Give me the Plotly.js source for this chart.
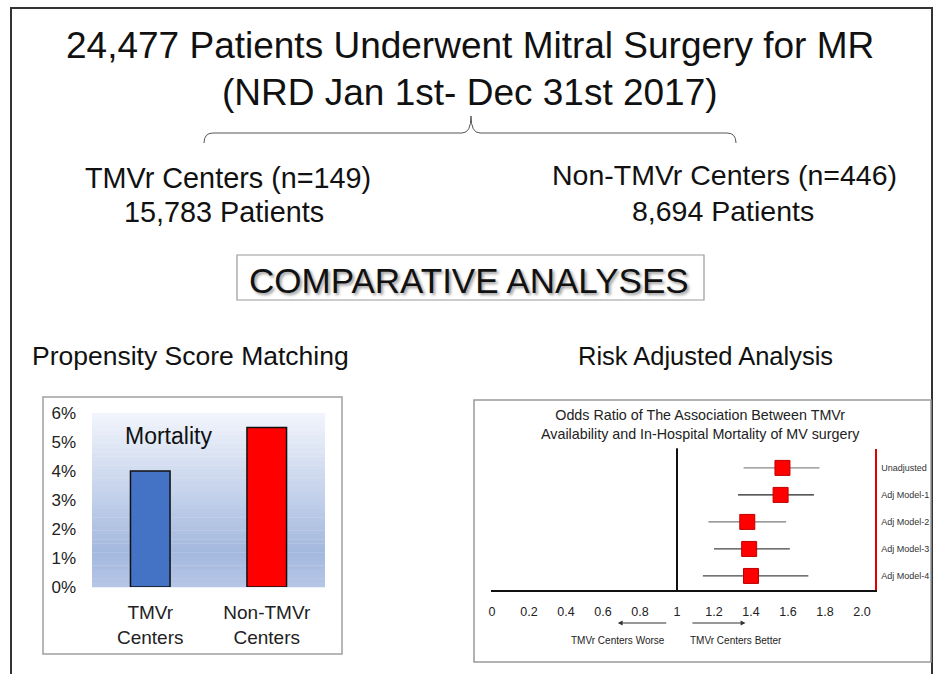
<!DOCTYPE html>
<html>
<head>
<meta charset="utf-8">
<script src="https://cdn.plot.ly/plotly-3.0.1.min.js"></script>
<style>html,body{margin:0;padding:0;background:#fff;}#chart{width:936px;height:674px;}</style>
</head>
<body>
<div id="chart"></div>
<script>
// ---- data ----
const barCategories = ['TMVr<br>Centers', 'Non-TMVr<br>Centers'];
const mortalityPct = [4.0, 5.5];
const barTickVals = [0, 1, 2, 3, 4, 5, 6];
const barTickText = ['0%', '1%', '2%', '3%', '4%', '5%', '6%'];

const models = ['Unadjusted', 'Adj Model-1', 'Adj Model-2', 'Adj Model-3', 'Adj Model-4'];
const oddsRatio = [1.57, 1.56, 1.38, 1.39, 1.40];
const ciLower = [1.36, 1.33, 1.17, 1.20, 1.14];
const ciUpper = [1.77, 1.74, 1.59, 1.61, 1.71];
const orTickVals = [0, 0.2, 0.4, 0.6, 0.8, 1, 1.2, 1.4, 1.6, 1.8, 2.0];
const orTickText = ['0', '0.2', '0.4', '0.6', '0.8', '1', '1.2', '1.4', '1.6', '1.8', '2.0'];

// ---- helpers (pixel -> paper) ----
const W = 936, H = 674;
const px = x => x / W;
const py = y => 1 - y / H;

const FONT = 'Liberation Sans, Arial, sans-serif';
const ciColors = ['#8a8a8a', '#222222', '#7a7a7a', '#444444', '#444444'];

const traces = [];
traces.push({
  type: 'bar', x: barCategories, y: mortalityPct, xaxis: 'x', yaxis: 'y',
  width: 0.34,
  marker: { color: ['#4472c4', '#ff0000'], line: { color: '#111', width: 1.5 } },
  hoverinfo: 'skip', showlegend: false
});
models.forEach((m, i) => {
  traces.push({
    type: 'scatter', mode: 'markers', x: [oddsRatio[i]], y: [m], xaxis: 'x2', yaxis: 'y2',
    marker: { symbol: 'square', size: 15, color: '#ff0000', line: { color: '#c00000', width: 1 } },
    error_x: { type: 'data', symmetric: false, array: [ciUpper[i] - oddsRatio[i]],
               arrayminus: [oddsRatio[i] - ciLower[i]], width: 0, thickness: 1.2, color: ciColors[i] },
    showlegend: false, hoverinfo: 'skip'
  });
});

// ---- decorative shapes ----
const shapes = [];
shapes.push({ type: 'path', xref: 'paper', yref: 'paper',
  path: `M ${px(11)},${py(674)} L ${px(11)},${py(8)} L ${px(932)},${py(8)} L ${px(932)},${py(674)}`,
  line: { color: '#333', width: 2 } });
const br = [[204,143],[204,133],[213,133],[462,133],[471,133],[471,116],[471,133],[480,133],[727,133],[736,133],[736,143]];
const P = p => `${px(p[0])},${py(p[1])}`;
shapes.push({ type: 'path', xref: 'paper', yref: 'paper',
  path: `M ${P(br[0])} Q ${P(br[1])} ${P(br[2])} L ${P(br[3])} Q ${P(br[4])} ${P(br[5])} Q ${P(br[6])} ${P(br[7])} L ${P(br[8])} Q ${P(br[9])} ${P(br[10])}`,
  line: { color: '#555', width: 1 } });
shapes.push({ type: 'rect', xref: 'paper', yref: 'paper', x0: px(237), x1: px(704), y0: py(300), y1: py(255),
  line: { color: '#999', width: 1.2 }, fillcolor: 'rgba(0,0,0,0)' });
shapes.push({ type: 'rect', xref: 'paper', yref: 'paper', x0: px(43), x1: px(342), y0: py(654), y1: py(397),
  line: { color: '#a0a0a0', width: 1.5 }, fillcolor: 'rgba(0,0,0,0)' });
shapes.push({ type: 'rect', xref: 'paper', yref: 'paper', x0: px(474), x1: px(931), y0: py(662), y1: py(400),
  line: { color: '#999', width: 1.5 }, fillcolor: 'rgba(0,0,0,0)' });
const NS = 40;
function grad(t) {
  const top = [242, 245, 252], mid = [163, 184, 222], bot = [182, 198, 230];
  let a, b, u;
  if (t < 0.8) { a = top; b = mid; u = t / 0.8; } else { a = mid; b = bot; u = (t - 0.8) / 0.2; }
  const c = a.map((v, k) => Math.round(v + (b[k] - v) * u));
  return `rgb(${c[0]},${c[1]},${c[2]})`;
}
for (let k = 0; k < NS; k++) {
  shapes.push({ type: 'rect', xref: 'x domain', yref: 'y domain', layer: 'below',
    x0: 0, x1: 1, y0: 1 - (k + 1) / NS - 0.002, y1: 1 - k / NS,
    fillcolor: grad((k + 0.5) / NS), line: { width: 0 } });
}
shapes.push({ type: 'line', xref: 'x2', yref: 'y2 domain', x0: 1, x1: 1, y0: 0, y1: 1.005,
  line: { color: '#111', width: 2 } });

// ---- annotations ----
const ann = [];
const txt = (t, x, y, size, extra) => ann.push(Object.assign({ text: t, xref: 'paper', yref: 'paper',
  x: px(x), y: py(y), xanchor: 'center', yanchor: 'middle', showarrow: false,
  font: { family: FONT, size: size, color: '#111' } }, extra || {}));
txt('24,477 Patients Underwent Mitral Surgery for MR', 470, 45, 37);
txt('(NRD Jan 1st- Dec 31st 2017)', 470, 92, 37);
txt('TMVr Centers (n=149)', 228, 178, 28.8);
txt('15,783 Patients', 224, 212, 28.8);
txt('Non-TMVr Centers (n=446)', 724, 175, 28.5);
txt('8,694 Patients', 723, 211, 28.5);
txt('COMPARATIVE ANALYSES', 469, 280, 35,
  { font: { family: FONT, size: 35, color: '#111', shadow: '2px 2px 3px rgba(0,0,0,0.4)' } });
txt('Propensity Score Matching', 190, 356, 26.5);
txt('Risk Adjusted Analysis', 705, 356, 25.5);
txt('Mortality', 168, 436, 23);
txt('Odds Ratio of The Association Between TMVr<br>Availability and In-Hospital Mortality of MV surgery', 700, 424, 14.3,
  { font: { family: FONT, size: 14.3, color: '#222' } });
txt('TMVr Centers Worse', 618, 640, 10, { font: { family: FONT, size: 10, color: '#222' } });
txt('TMVr Centers Better', 736, 640, 10, { font: { family: FONT, size: 10, color: '#222' } });
ann.push({ xref: 'x2', yref: 'paper', axref: 'x2', ayref: 'paper', x: 0.68, y: py(623), ax: 0.95, ay: py(623),
  text: '', showarrow: true, arrowhead: 2, arrowsize: 0.8, arrowwidth: 1.2, arrowcolor: '#333' });
ann.push({ xref: 'x2', yref: 'paper', axref: 'x2', ayref: 'paper', x: 1.37, y: py(623), ax: 1.075, ay: py(623),
  text: '', showarrow: true, arrowhead: 2, arrowsize: 0.8, arrowwidth: 1.2, arrowcolor: '#333' });

const s = 185; // px per OR unit
const layout = {
  width: W, height: H, margin: { l: 0, r: 0, t: 0, b: 0 },
  paper_bgcolor: '#fff', plot_bgcolor: 'rgba(0,0,0,0)',
  showlegend: false, font: { family: FONT, color: '#111' },
  xaxis: { domain: [px(92), px(325)], range: [-0.5, 1.5], anchor: 'y', showline: false, showgrid: false,
    zeroline: false, ticks: '', tickfont: { size: 19, color: '#222' }, ticklabelstandoff: 12, fixedrange: true },
  yaxis: { domain: [py(587), py(413)], range: [0, 6], anchor: 'x', showline: false, showgrid: false,
    zeroline: false, ticks: '', tickvals: barTickVals, ticktext: barTickText,
    tickfont: { size: 17, color: '#222' }, ticklabelstandoff: 15 },
  xaxis2: { domain: [px(677 - s * 1.005), px(875)], range: [-0.005, 1 + 198 / s], anchor: 'y2',
    showline: true, linecolor: '#111', linewidth: 2, showgrid: false, zeroline: false, ticks: '',
    tickvals: orTickVals, ticktext: orTickText, tickfont: { size: 12.5, color: '#222' }, ticklabelstandoff: 9 },
  yaxis2: { domain: [py(590), py(449)], type: 'category', categoryorder: 'array', categoryarray: models,
    range: [4.52, -0.7], anchor: 'x2', side: 'right', showline: true, linecolor: '#e00000', linewidth: 1.5,
    showgrid: false, zeroline: false, ticks: '', tickfont: { size: 9, color: '#333' }, ticklabelstandoff: 3 },
  shapes: shapes, annotations: ann
};
Plotly.newPlot('chart', traces, layout, { displayModeBar: false, staticPlot: true });
</script>
</body>
</html>
